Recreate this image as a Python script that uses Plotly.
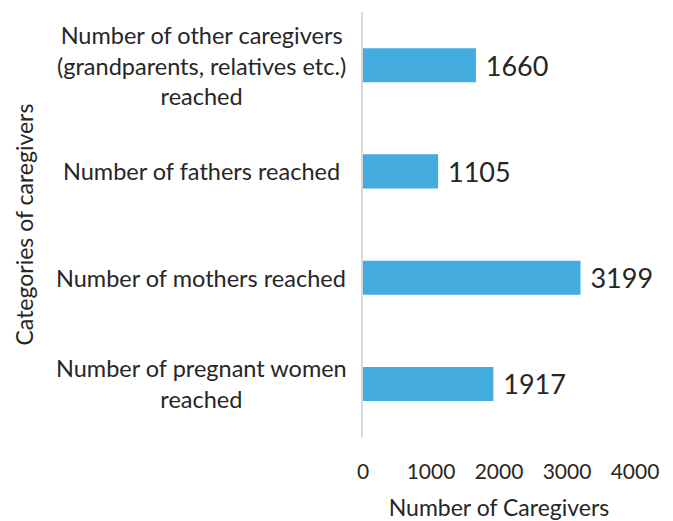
import plotly.graph_objects as go

categories = [
    "Number of pregnant women<br>reached",
    "Number of mothers reached",
    "Number of fathers reached",
    "Number of other caregivers<br>(grandparents, relatives etc.)<br>reached",
]
values = [1917, 3199, 1105, 1660]
x_ticks = [0, 1000, 2000, 3000, 4000]

FONT = "Lato"
TEXT = "#262626"
BAR = "#43ABDD"

fig = go.Figure(go.Bar(
    y=categories, x=values, orientation="h",
    marker=dict(color=BAR, line=dict(width=0)),
    text=values, texttemplate=" %{x}", textposition="outside",
    textfont=dict(family=FONT, size=27, color=TEXT),
    cliponaxis=False,
))

annotations = []
for c in categories:
    annotations.append(dict(
        x=0, xref="paper", y=c, yref="y", text=c, showarrow=False,
        xanchor="center", align="center", xshift=-162,
        font=dict(family=FONT, size=23.5, color=TEXT),
    ))
annotations.append(dict(
    x=0, xref="paper", y=0.5, yref="paper", text="Categories of caregivers",
    showarrow=False, textangle=-90, xanchor="center", yanchor="middle",
    xshift=-340, font=dict(family=FONT, size=23, color=TEXT),
))

# the page body adds an 8px offset, so the figure is 8px smaller
fig.update_layout(
    width=665, height=513,
    margin=dict(l=355, r=38, t=4, b=84, autoexpand=False),
    paper_bgcolor="white", plot_bgcolor="white",
    bargap=0.68, showlegend=False,
    annotations=annotations,
    font=dict(family=FONT, color=TEXT),
)
fig.update_xaxes(
    range=[0, 4000], tickvals=x_ticks, showgrid=False, zeroline=False,
    showline=False, ticks="", ticklabelstandoff=20, automargin=False,
    tickfont=dict(family=FONT, size=21, color=TEXT),
    title=dict(text="Number of Caregivers", standoff=17,
               font=dict(family=FONT, size=23, color=TEXT)),
)
fig.update_yaxes(
    showticklabels=False, showgrid=False, zeroline=False, automargin=False,
    showline=True, linecolor="#d9d9d9", linewidth=2, ticks="",
)

fig.write_html("out.html")
